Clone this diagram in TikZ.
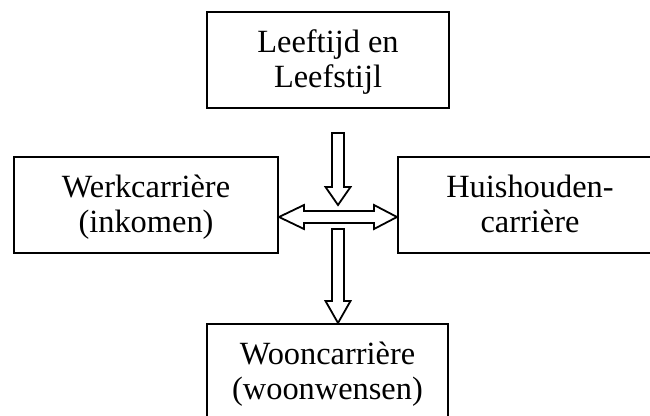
\documentclass[tikz,border=0pt]{standalone}
\usepackage{fontspec}
\setmainfont{Liberation Serif}
\usetikzlibrary{calc}
\tikzset{
  box/.style={draw=black, line width=2pt, fill=white, align=center, inner sep=0pt,
    text height=62pt, text depth=8pt,
    font=\fontsize{32.4}{35}\selectfont},
  blockarrow/.style={draw=black, line width=1.8pt, fill=white, line join=miter}
}
\begin{document}
\begin{tikzpicture}[x=1pt,y=-1pt]
\clip (0,0) rectangle (650,415);
\fill[white] (0,0) rectangle (650,415);
% boxes
\node[box, minimum width=242pt, minimum height=96pt] (leef) at (328,60) {Leeftijd en\\Leefstijl};
\node[box, minimum width=264pt, minimum height=96pt] (werk) at (146,205) {Werkcarrière\\(inkomen)};
\node[box, minimum width=264pt, minimum height=96pt] (huis) at (530,205) {Huishouden-\\carrière};
\node[box, minimum width=241pt, minimum height=96pt] (woon) at (327.5,372) {Wooncarrière\\(woonwensen)};
% reference coordinates
\coordinate (ta) at (338,133);   % top of upper arrow
\coordinate (tb) at (338,205);   % tip of upper arrow
\coordinate (ba) at (338,229);   % top of lower arrow
\coordinate (hl) at (werk.east |- 0,217);
\coordinate (hr) at (huis.west |- 0,217);
% upper arrow
\draw[blockarrow] ($(ta)+(-6,0)$) -- ($(ta)+(6,0)$) -- ($(tb)+(6,-18)$) -- ($(tb)+(12.5,-18)$)
  -- (tb) -- ($(tb)+(-12.5,-18)$) -- ($(tb)+(-6,-18)$) -- cycle;
% double horizontal arrow
\draw[blockarrow] (hl) -- ($(hl)+(25,-12)$) -- ($(hl)+(25,-6)$) -- ($(hr)+(-23,-6)$)
  -- ($(hr)+(-23,-12)$) -- (hr) -- ($(hr)+(-23,12)$) -- ($(hr)+(-23,6)$)
  -- ($(hl)+(25,6)$) -- ($(hl)+(25,12)$) -- cycle;
% lower arrow
\coordinate (bt) at (woon.north -| ba);
\draw[blockarrow] ($(ba)+(-6,0)$) -- ($(ba)+(6,0)$) -- ($(bt)+(6,-22)$) -- ($(bt)+(12.5,-22)$)
  -- (bt) -- ($(bt)+(-12.5,-22)$) -- ($(bt)+(-6,-22)$) -- cycle;
\end{tikzpicture}
\end{document}
